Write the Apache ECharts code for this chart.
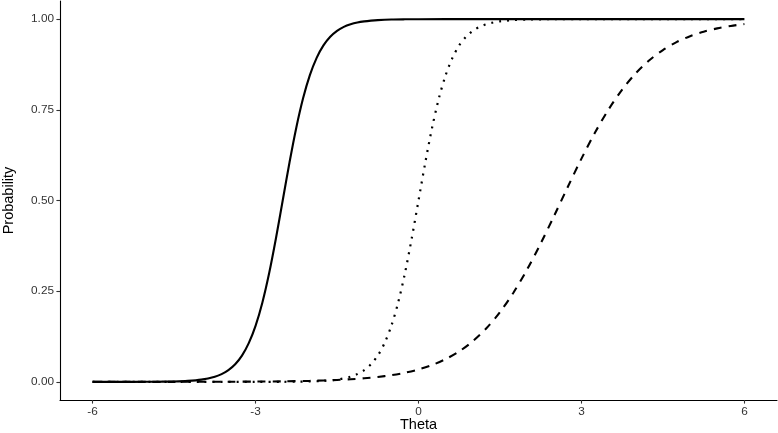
<!DOCTYPE html>
<html>
<head>
<meta charset="utf-8">
<script src="https://cdn.jsdelivr.net/npm/echarts@6/dist/echarts.min.js"></script>
<style>
html,body{margin:0;padding:0;background:#fff;}
#chart{width:778px;height:433px;}
</style>
</head>
<body>
<div id="chart"></div>
<script>
// Tick labels
const xTicks = [-6, -3, 0, 3, 6];
const yTicks = [0, 0.25, 0.5, 0.75, 1];

// Solid curve
const thetaSolid = [-6, -5.5, -5, -4.75, -4.5, -4.25, -4, -3.75, -3.625, -3.5, -3.375, -3.25, -3.125, -3, -2.875, -2.75, -2.625, -2.5, -2.375, -2.25, -2.125, -2, -1.875, -1.75, -1.625, -1.5, -1.375, -1.25, -1.125, -1, -0.875, -0.75, -0.5, -0.25, 0, 1, 2, 3, 4, 5, 6];
const probSolid = [0.0000, 0.0000, 0.0002, 0.0005, 0.0011, 0.0026, 0.0061, 0.0141, 0.0214, 0.0323, 0.0486, 0.0724, 0.1067, 0.1545, 0.2184, 0.2994, 0.3953, 0.5000, 0.6047, 0.7006, 0.7816, 0.8455, 0.8933, 0.9276, 0.9514, 0.9677, 0.9787, 0.9859, 0.9908, 0.9939, 0.9960, 0.9974, 0.9989, 0.9995, 0.9998, 1.0000, 1.0000, 1.0000, 1.0000, 1.0000, 1.0000];

// Dotted curve
const thetaDotted = [-6, -5, -4, -3, -2.5, -2.25, -2, -1.75, -1.5, -1.25, -1.125, -1, -0.875, -0.75, -0.625, -0.5, -0.375, -0.25, -0.125, 0, 0.125, 0.25, 0.375, 0.5, 0.625, 0.75, 0.875, 1, 1.125, 1.25, 1.375, 1.5, 1.625, 1.75, 2, 2.25, 2.5, 3, 4, 5, 6];
const probDotted = [0.0000, 0.0000, 0.0000, 0.0000, 0.0002, 0.0005, 0.0011, 0.0026, 0.0061, 0.0141, 0.0214, 0.0323, 0.0486, 0.0724, 0.1067, 0.1545, 0.2184, 0.2994, 0.3953, 0.5000, 0.6047, 0.7006, 0.7816, 0.8455, 0.8933, 0.9276, 0.9514, 0.9677, 0.9787, 0.9859, 0.9908, 0.9939, 0.9960, 0.9974, 0.9989, 0.9995, 0.9998, 1.0000, 1.0000, 1.0000, 1.0000];

// Dashed curve
const thetaDashed = [-6, -5.5, -5, -4.5, -4, -3.5, -3, -2.5, -2, -1.5, -1.25, -1, -0.75, -0.5, -0.25, 0, 0.25, 0.5, 0.75, 1, 1.25, 1.5, 1.75, 2, 2.25, 2.5, 2.75, 3, 3.25, 3.5, 3.75, 4, 4.25, 4.5, 4.75, 5, 5.25, 5.5, 5.75, 6];
const probDashed = [0.0000, 0.0000, 0.0001, 0.0001, 0.0002, 0.0004, 0.0008, 0.0015, 0.0028, 0.0053, 0.0072, 0.0099, 0.0135, 0.0184, 0.0251, 0.0342, 0.0464, 0.0627, 0.0841, 0.1121, 0.1477, 0.1923, 0.2465, 0.3100, 0.3817, 0.4588, 0.5380, 0.6154, 0.6873, 0.7512, 0.8057, 0.8507, 0.8867, 0.9149, 0.9366, 0.9530, 0.9654, 0.9745, 0.9813, 0.9864];

const zip = (xs, ys) => xs.map((x, i) => [x, ys[i]]);
const FONT = "'Liberation Sans', Arial, sans-serif";

const chart = echarts.init(document.getElementById('chart'), null, {renderer: 'canvas'});
chart.setOption({
  animation: false,
  backgroundColor: '#ffffff',
  grid: {left: 60, right: 1, top: 1, bottom: 33, containLabel: false, outerBoundsMode: 'none'},
  xAxis: {
    type: 'value', min: -6.6, max: 6.6,
    name: 'Theta', nameLocation: 'middle', nameGap: 17, nameMoveOverlap: false,
    nameTextStyle: {color: '#000', fontSize: 14.5, fontFamily: FONT},
    axisLine: {onZero: false, lineStyle: {color: '#000', width: 1.1}},
    axisTick: {show: true, length: 3.6, customValues: xTicks, lineStyle: {color: '#333', width: 1.1}},
    axisLabel: {customValues: xTicks, color: '#333', fontSize: 11.8, fontFamily: FONT, margin: 6},
    splitLine: {show: false}
  },
  yAxis: {
    type: 'value', min: -0.05, max: 1.05,
    name: 'Probability', nameLocation: 'middle', nameGap: 44, nameRotate: 90, nameMoveOverlap: false,
    nameTextStyle: {color: '#000', fontSize: 14.5, fontFamily: FONT},
    axisLine: {onZero: false, lineStyle: {color: '#000', width: 1.1}},
    axisTick: {show: true, length: 3.6, customValues: yTicks, lineStyle: {color: '#333', width: 1.1}},
    axisLabel: {customValues: yTicks, color: '#333', fontSize: 11.8, fontFamily: FONT, margin: 6,
      formatter: v => v.toFixed(2)},
    splitLine: {show: false}
  },
  series: [
    {type: 'line', data: zip(thetaDashed, probDashed), showSymbol: false, symbol: 'none', smooth: 0.3,
     lineStyle: {color: '#000', width: 2.1, type: [8, 7], cap: 'butt'}},
    {type: 'line', data: zip(thetaDotted, probDotted), showSymbol: false, symbol: 'none', smooth: 0.3,
     lineStyle: {color: '#000', width: 2.2, type: [2, 6], cap: 'butt'}},
    {type: 'line', data: zip(thetaSolid, probSolid), showSymbol: false, symbol: 'none', smooth: 0.3,
     lineStyle: {color: '#000', width: 2.1, type: 'solid'}}
  ]
});
</script>
</body>
</html>
